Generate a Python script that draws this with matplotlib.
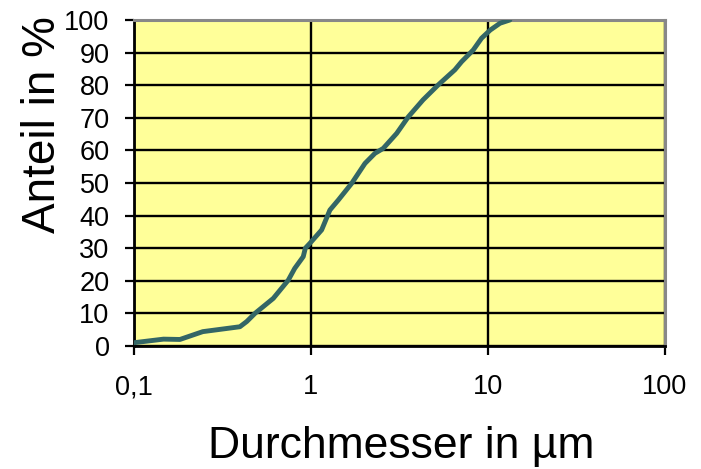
import matplotlib.pyplot as plt
from matplotlib.ticker import FixedLocator, NullLocator

plt.rcParams['font.family'] = ['Liberation Sans', 'DejaVu Sans']

# Cumulative particle size distribution
durchmesser = [0.1, 0.147, 0.182, 0.245, 0.397, 0.434, 0.483, 0.613, 0.745,
               0.81, 0.905, 0.93, 0.987, 1.15, 1.28, 1.43, 1.70, 2.02, 2.30,
               2.56, 3.05, 3.55, 4.3, 5.24, 6.5, 7.1, 8.26, 9.2, 10.3, 11.7,
               13.3]
anteil = [1.0, 2.1, 2.0, 4.4, 5.9, 7.5, 10.0, 14.6, 20.2,
          23.8, 27.4, 30.0, 31.5, 35.6, 41.7, 44.8, 49.9, 56.0, 59.1,
          60.6, 65.2, 70.3, 75.5, 80.1, 84.7, 87.2, 90.8, 94.4, 96.9, 99.0,
          100.0]

x_ticks = [0.1, 1, 10, 100]
x_labels = ['0,1', '1', '10', '100']
y_ticks = list(range(0, 101, 10))

fig = plt.figure(figsize=(7.01, 4.69), dpi=100)
ax = fig.add_axes([0.191, 0.2623, 0.7576, 0.6951])
ax.set_facecolor('#FFFF99')

ax.plot(durchmesser, anteil, color='#336666', linewidth=3.5,
        solid_capstyle='round', solid_joinstyle='round', zorder=3)

ax.set_xscale('log')
ax.set_xlim(0.1, 100)
ax.set_ylim(0, 100)
ax.xaxis.set_major_locator(FixedLocator(x_ticks))
ax.xaxis.set_minor_locator(NullLocator())
ax.set_xticks(x_ticks)
ax.set_xticklabels(x_labels)
ax.set_yticks(y_ticks)

ax.grid(True, color='black', linewidth=1.7, zorder=1)
ax.set_axisbelow(True)

for side in ('top', 'right'):
    ax.spines[side].set_color('#888888')
    ax.spines[side].set_linewidth(2.2)
for side in ('left', 'bottom'):
    ax.spines[side].set_color('black')
    ax.spines[side].set_linewidth(2)

ax.tick_params(axis='both', length=6.5, width=1.6, labelsize=19.5,
               direction='out', color='black')
ax.tick_params(axis='x', pad=14)
ax.tick_params(axis='y', pad=11)

# axis titles placed in figure coordinates
fig.text(401 / 701, 1 - 458 / 469, 'Durchmesser in µm', fontsize=32,
         ha='center', va='baseline')
fig.text(55 / 701, 1 - 125 / 469, 'Anteil in %', fontsize=33,
         rotation=90, rotation_mode='anchor', ha='center', va='baseline')

fig.savefig('out.png', dpi=100)
